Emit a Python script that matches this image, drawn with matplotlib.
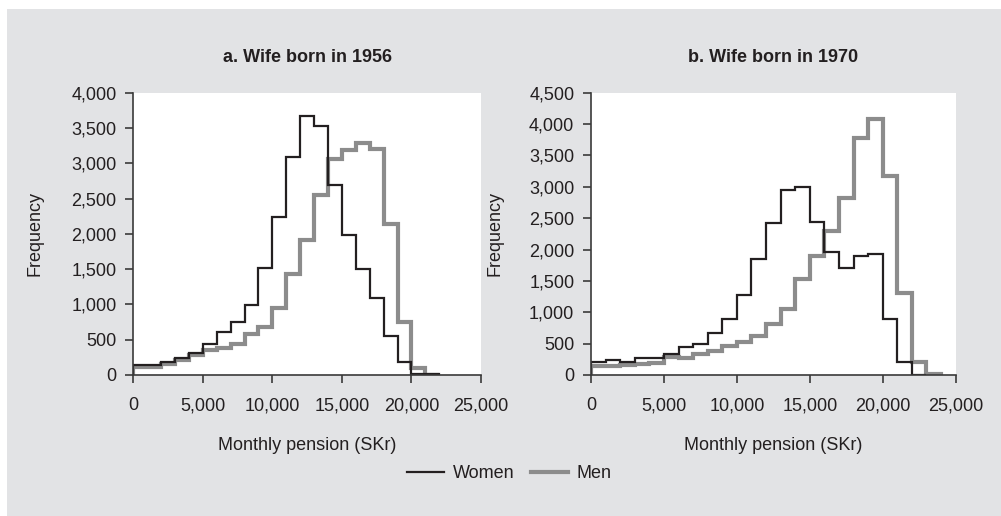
import numpy as np
import matplotlib
matplotlib.use("Agg")
import matplotlib.pyplot as plt
from matplotlib.patches import Rectangle
from matplotlib.ticker import FuncFormatter, MultipleLocator

plt.rcParams['font.family'] = ['Liberation Sans', 'DejaVu Sans']

# frequencies per 1,000 SKr bin, starting at 0
women_1956 = [140, 135, 179, 245, 311, 439, 604, 745, 995, 1509, 2245, 3094,
              3670, 3524, 2698, 1986, 1500, 1085, 557, 179, 20, 10]
men_1956 = [108, 118, 155, 212, 283, 354, 387, 434, 580, 684, 953, 1425,
            1906, 2557, 3057, 3184, 3288, 3203, 2137, 745, 94, 5]
women_1970 = [212, 234, 212, 271, 271, 335, 446, 489, 664, 887, 1280, 1849,
              2423, 2949, 2991, 2439, 1955, 1711, 1891, 1934, 887, 202, 0]
men_1970 = [149, 149, 160, 175, 186, 287, 276, 335, 383, 468, 531, 622,
            813, 1057, 1525, 1902, 2290, 2816, 3783, 4080, 3167, 1307, 212, 10]

titles = ["a. Wife born in 1956", "b. Wife born in 1970"]
ymax = [4000, 4500]
bin_width = 1000

txt = '#231f20'
grey = '#8c8c8c'
bg = '#e2e3e5'

fig = plt.figure(figsize=(10.01, 5.16), dpi=100, facecolor='white')
fig.patches.append(Rectangle((7 / 1001, 0), 1, 1 - 9 / 516, transform=fig.transFigure,
                             facecolor=bg, edgecolor='none', zorder=-10))

ax1 = fig.add_axes([0.1332, 0.2733, 0.3473, 0.547])
ax2 = fig.add_axes([0.5904, 0.2733, 0.3643, 0.547])

panels = [(ax1, women_1956, men_1956), (ax2, women_1970, men_1970)]
for i, (ax, w, m) in enumerate(panels):
    ax.set_facecolor('white')
    edges_m = np.arange(len(m) + 1) * bin_width
    edges_w = np.arange(len(w) + 1) * bin_width
    ax.stairs(m, edges_m, color=grey, linewidth=3.0, label='Men')
    ax.stairs(w, edges_w, color=txt, linewidth=1.6, label='Women')

    ax.set_xlim(0, 25000)
    ax.set_ylim(0, ymax[i])
    ax.xaxis.set_major_locator(MultipleLocator(5000))
    ax.yaxis.set_major_locator(MultipleLocator(500))
    fmt = FuncFormatter(lambda v, p: f"{int(v):,}")
    ax.xaxis.set_major_formatter(fmt)
    ax.yaxis.set_major_formatter(fmt)

    for s in ['top', 'right']:
        ax.spines[s].set_visible(False)
    for s in ['left', 'bottom']:
        ax.spines[s].set_color('#3a3a3a')
        ax.spines[s].set_linewidth(1.2)
    ax.tick_params(axis='both', direction='out', length=6, width=1.2,
                   color='#3a3a3a', labelsize=13, labelcolor=txt)
    ax.tick_params(axis='x', pad=10)
    ax.tick_params(axis='y', pad=6)

    ax.set_ylabel('Frequency', fontsize=13, color=txt)
    ax.set_xlabel('Monthly pension (SKr)', fontsize=13, color=txt)
    ax.xaxis.set_label_coords(0.5, -0.2196)
    ax.text(0.5, 1.126, titles[i], transform=ax.transAxes, ha='center', va='center',
            fontsize=13, fontweight='bold', color=txt)

ax1.yaxis.set_label_coords(-0.257, 0.5)
ax2.yaxis.set_label_coords(-0.241, 0.5)

h, l = ax1.get_legend_handles_labels()
from matplotlib.lines import Line2D
handles = [Line2D([], [], color=txt, linewidth=1.6), Line2D([], [], color=grey, linewidth=3.0)]
fig.legend(handles, ['Women', 'Men'], loc='center', bbox_to_anchor=(0.509, 0.0814),
           ncol=2, frameon=False, fontsize=13, handlelength=2.05, handletextpad=0.48,
           columnspacing=0.92, labelcolor=txt)

fig.savefig('out.png', dpi=100, facecolor=fig.get_facecolor())
